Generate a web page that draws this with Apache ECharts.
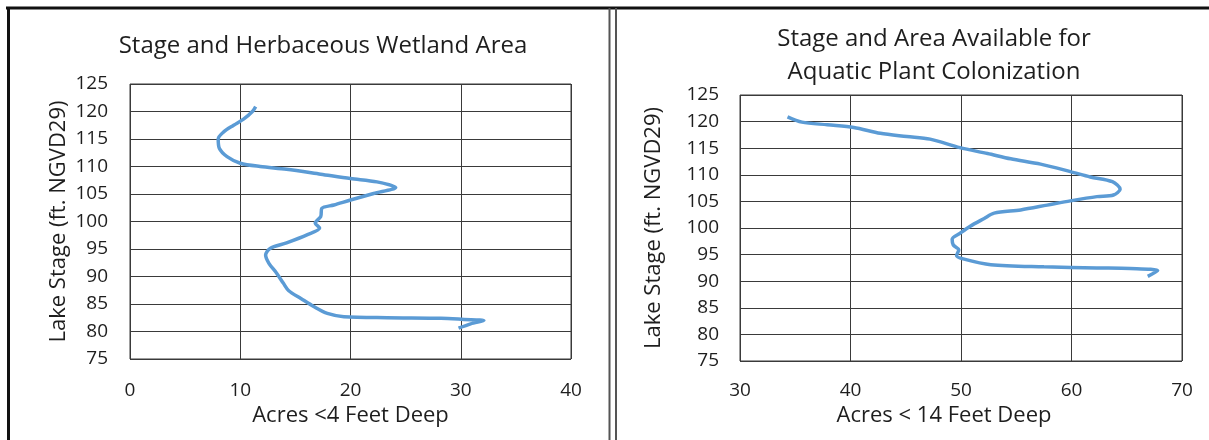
<!DOCTYPE html>
<html><head><meta charset="utf-8">
<script src="https://cdn.jsdelivr.net/npm/echarts@6/dist/echarts.min.js"></script>
<style>html,body{margin:0;padding:0;background:#fff}#c{width:1209px;height:440px}</style>
</head><body><div id="c"></div>
<script>
// Left panel: Acres <4 Feet Deep vs Lake Stage
const herbAcres = [11.4,11.1,10.3,9.4,8.5,8.0,8.1,8.8,10.0,11.8,14.2,17.3,20.0,22.4,24.1,22.1,20.0,18.5,17.4,17.3,16.8,17.2,16.1,14.2,12.7,12.3,12.6,13.3,13.9,14.4,15.5,16.7,17.9,19.4,23.3,28.2,30.3,32.1,30.9,29.8];
const herbStage = [120.9,120.0,118.6,117.5,116.3,115.0,113.3,111.8,110.6,110.0,109.5,108.6,107.8,107.2,106.2,105.1,103.9,103.0,102.4,100.9,99.7,98.8,97.6,96.1,95.1,93.9,92.4,90.6,88.8,87.4,86.0,84.5,83.3,82.7,82.5,82.4,82.2,82.0,81.4,80.6];
// Right panel: Acres < 14 Feet Deep vs Lake Stage
const aquaAcres = [34.3,35.6,37.9,40.3,42.7,45.1,47.2,49.9,52.4,54.5,57.2,59.9,61.7,63.7,64.4,63.8,62.3,59.9,57.8,55.4,53.0,52.1,50.8,49.9,49.2,49.3,49.8,49.6,50.2,52.7,57.5,62.3,65.3,67.8,66.9];
const aquaStage = [120.9,119.9,119.4,118.9,117.8,117.2,116.7,115.1,114.0,113.0,112.0,110.6,109.6,108.7,107.3,106.2,105.9,105.1,104.3,103.4,102.8,101.8,100.3,99.0,97.9,96.8,95.9,94.8,94.2,93.1,92.7,92.5,92.4,92.0,90.9];
const stageTicks = [75,125,5];
const leftTitle = 'Stage and Herbaceous Wetland Area';
const rightTitle = 'Stage and Area Available for\nAquatic Plant Colonization';
const yName = 'Lake Stage (ft. NGVD29)';
const leftXName = 'Acres <4 Feet Deep';
const rightXName = 'Acres < 14 Feet Deep';

const FONT = '"Open Sans"';
const gridCol = '#3a3a3a';
const txtCol = '#1e1e1e';
const pair = (xs, ys) => xs.map((x, i) => [x, ys[i]]);

function xAxis(idx, min, max, name, margin, gap, pad) {
  return {
    type: 'value', gridIndex: idx, min: min, max: max, interval: 10,
    name: name, nameLocation: 'middle', nameGap: gap,
    nameTextStyle: {fontFamily: FONT, fontSize: 22, color: txtCol, padding: pad},
    axisLine: {show: false}, axisTick: {show: false},
    splitLine: {show: true, lineStyle: {color: gridCol, width: 1}},
    axisLabel: {fontFamily: FONT, fontSize: 19, color: txtCol, margin: margin}
  };
}
function yAxis(idx, margin, gap) {
  return {
    type: 'value', gridIndex: idx, min: stageTicks[0], max: stageTicks[1], interval: stageTicks[2],
    name: yName, nameLocation: 'middle', nameGap: gap,
    nameTextStyle: {fontFamily: FONT, fontSize: 22, color: txtCol},
    axisLine: {show: false}, axisTick: {show: false},
    splitLine: {show: true, lineStyle: {color: gridCol, width: 1}},
    axisLabel: {fontFamily: FONT, fontSize: 19, color: txtCol, margin: margin}
  };
}

const chart = echarts.init(document.getElementById('c'));
chart.setOption({
  animation: false,
  title: [
    {text: leftTitle, left: 318, top: 29, textAlign: 'center',
     textStyle: {fontFamily: FONT, fontSize: 24, fontWeight: 'normal', color: txtCol}},
    {text: rightTitle, left: 929, top: 18, textAlign: 'center',
     textStyle: {fontFamily: FONT, fontSize: 24, fontWeight: 'normal', color: txtCol, lineHeight: 33}}
  ],
  grid: [
    {left: 130, top: 84, width: 441, height: 275, show: true, borderColor: gridCol, borderWidth: 1, backgroundColor: 'transparent'},
    {left: 740, top: 95, width: 442, height: 266, show: true, borderColor: gridCol, borderWidth: 1, backgroundColor: 'transparent'}
  ],
  xAxis: [xAxis(0, 0, 40, leftXName, 22, 41, [0, 0, 0, 0]), xAxis(1, 30, 70, rightXName, 20, 39, [0, 34, 0, 0])],
  yAxis: [yAxis(0, 22, 60), yAxis(1, 21, 75)],
  series: [
    {type: 'line', xAxisIndex: 0, yAxisIndex: 0, data: pair(herbAcres, herbStage), smooth: 0.3,
     showSymbol: false, lineStyle: {color: '#5B9BD5', width: 3.5}},
    {type: 'line', xAxisIndex: 1, yAxisIndex: 1, data: pair(aquaAcres, aquaStage), smooth: 0.3,
     showSymbol: false, lineStyle: {color: '#5B9BD5', width: 3.5}}
  ],
  graphic: [
    {type: 'line', shape: {x1: 6, y1: 8, x2: 1209, y2: 8}, style: {stroke: '#111', lineWidth: 3}},
    {type: 'line', shape: {x1: 8.5, y1: 8, x2: 8.5, y2: 440}, style: {stroke: '#111', lineWidth: 3}},
    {type: 'line', shape: {x1: 609.5, y1: 8, x2: 609.5, y2: 440}, style: {stroke: '#555', lineWidth: 2}},
    {type: 'line', shape: {x1: 616, y1: 8, x2: 616, y2: 440}, style: {stroke: '#555', lineWidth: 2}}
  ]
});
</script></body></html>
